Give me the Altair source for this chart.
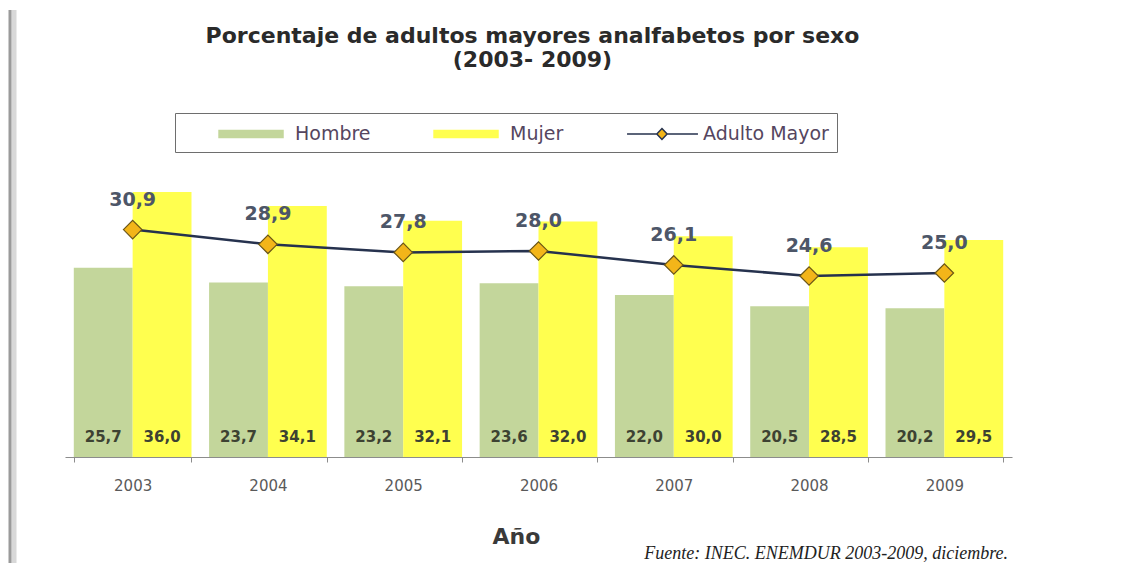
import altair as alt
import pandas as pd

years = ["2003", "2004", "2005", "2006", "2007", "2008", "2009"]
hombre = [25.7, 23.7, 23.2, 23.6, 22.0, 20.5, 20.2]
mujer = [36.0, 34.1, 32.1, 32.0, 30.0, 28.5, 29.5]
adulto_mayor = [30.9, 28.9, 27.8, 28.0, 26.1, 24.6, 25.0]
series = ["Hombre", "Mujer", "Adulto Mayor"]
chart_title = ["Porcentaje de adultos mayores analfabetos por sexo", "(2003- 2009)"]
x_title = "Año"
source_note = "Fuente: INEC. ENEMDUR 2003-2009, diciembre."

GREEN = "#c3d69b"
YELLOW = "#ffff4f"
NAVY = "#26324e"
ORANGE = "#f3b519"


def fmt(v):
    return f"{v:.1f}".replace(".", ",")


bars_df = pd.DataFrame({
    "year": years * 2,
    "serie": ["Hombre"] * len(years) + ["Mujer"] * len(years),
    "valor": hombre + mujer,
})
bars_df["label"] = bars_df["valor"].map(fmt)
bars_df["base"] = 0.0

line_df = pd.DataFrame({"year": years, "valor": adulto_mayor})
line_df["label"] = line_df["valor"].map(fmt)

legend_df = pd.DataFrame({"serie": series})
note_df = pd.DataFrame({"text": [source_note]})
border_df = pd.DataFrame({"k": [0]})

x_enc = alt.X(
    "year:N", sort=years,
    scale=alt.Scale(paddingInner=0.13, paddingOuter=0.065),
    axis=alt.Axis(
        title=x_title, tickBand="extent", labelAngle=0,
        domainColor="#8c8c8c", tickColor="#8c8c8c", tickSize=5, domainWidth=1.2,
        labelFont="DejaVu Sans", labelFontSize=15, labelColor="#5a5a5a", labelPadding=16,
        titleFont="DejaVu Sans", titleFontSize=22, titleFontWeight="bold", titleColor="#3a3a3a",
        titlePadding=33, titleX=451,
    ),
)
y_scale = alt.Scale(domain=[0, 39])
xoff = alt.XOffset("serie:N", sort=["Hombre", "Mujer"], scale=alt.Scale(paddingInner=0, paddingOuter=0))

bars = alt.Chart(bars_df).mark_bar().encode(
    x=x_enc,
    xOffset=xoff,
    y=alt.Y("valor:Q", scale=y_scale, axis=None, stack=None),
    color=alt.Color("serie:N", scale=alt.Scale(domain=["Hombre", "Mujer"], range=[GREEN, YELLOW]), legend=None),
)

bar_labels = alt.Chart(bars_df).mark_text(
    dy=-20, fontSize=15, font="DejaVu Sans", fontWeight="bold", color="#3d4232", baseline="middle"
).encode(
    x=x_enc, xOffset=xoff, y=alt.Y("base:Q", scale=y_scale, axis=None), text="label:N"
)

line = alt.Chart(line_df).mark_line(color=NAVY, strokeWidth=2.5).encode(
    x=x_enc, y=alt.Y("valor:Q", scale=y_scale, axis=None)
)
points = alt.Chart(line_df).mark_point(
    shape="diamond", filled=True, color=ORANGE, stroke="#6a5516", strokeWidth=1.2, size=340, opacity=1
).encode(x=x_enc, y=alt.Y("valor:Q", scale=y_scale, axis=None))
line_labels = alt.Chart(line_df).mark_text(
    dy=-30, fontSize=19, fontWeight="bold", font="DejaVu Sans", color="#4d5668"
).encode(x=x_enc, y=alt.Y("valor:Q", scale=y_scale, axis=None), text="label:N")

RECT = "M1.92,-0.3H7.25V0.3H1.92Z"
LINE = "M1.92,0H4.4M5.26,0H7.83M4.83,-0.45L5.26,0L4.83,0.45L4.4,0Z"
leg = dict(
    orient="none", legendX=110, legendY=-57, direction="horizontal", title=None,
    symbolSize=576, symbolStrokeWidth=1.5, labelOffset=86, columnPadding=27,
    labelFont="DejaVu Sans", labelFontSize=19, labelColor="#554660",
    padding=8, strokeColor="#6e6e6e", fillColor="white",
)
legend_layer = alt.Chart(legend_df).mark_point(filled=True, clip=True, opacity=1, size=10).encode(
    x=alt.value(-3000), y=alt.value(-3000),
    fill=alt.Fill("serie:N", scale=alt.Scale(domain=series, range=[GREEN, YELLOW, ORANGE]), legend=alt.Legend(**leg)),
    stroke=alt.Stroke("serie:N", scale=alt.Scale(domain=series, range=[GREEN, YELLOW, NAVY]), legend=alt.Legend(**leg)),
    shape=alt.Shape("serie:N", scale=alt.Scale(domain=series, range=[RECT, RECT, LINE]), legend=alt.Legend(**leg)),
)

note = alt.Chart(note_df).mark_text(
    font="Liberation Serif", fontStyle="italic", fontSize=18, color="#222222", align="right", baseline="alphabetic"
).encode(x=alt.value(943), y=alt.value(389), text="text:N")

border_dark = alt.Chart(border_df).mark_rule(color="#9a9a9a", strokeWidth=3).encode(
    x=alt.value(-55), y=alt.value(-160), y2=alt.value(400)
)
border_light = alt.Chart(border_df).mark_rule(color="#d8d8d8", strokeWidth=5).encode(
    x=alt.value(-51), y=alt.value(-160), y2=alt.value(400)
)

chart = alt.layer(
    border_light, border_dark, bars, bar_labels, line, points, line_labels, legend_layer, note
).properties(
    width=947, height=287,
    padding={"left": 57, "top": 162, "right": 103, "bottom": 106},
    autosize=alt.AutoSizeParams(type="none"),
    title=alt.TitleParams(
        text=chart_title, anchor="middle", font="DejaVu Sans", fontSize=22, fontWeight="bold",
        color="#2a2a2a", lineHeight=24, dx=-6, dy=64, offset=0,
    ),
).configure_view(stroke=None)

chart.save("out.html", embed_options={"renderer": "svg", "actions": False})
